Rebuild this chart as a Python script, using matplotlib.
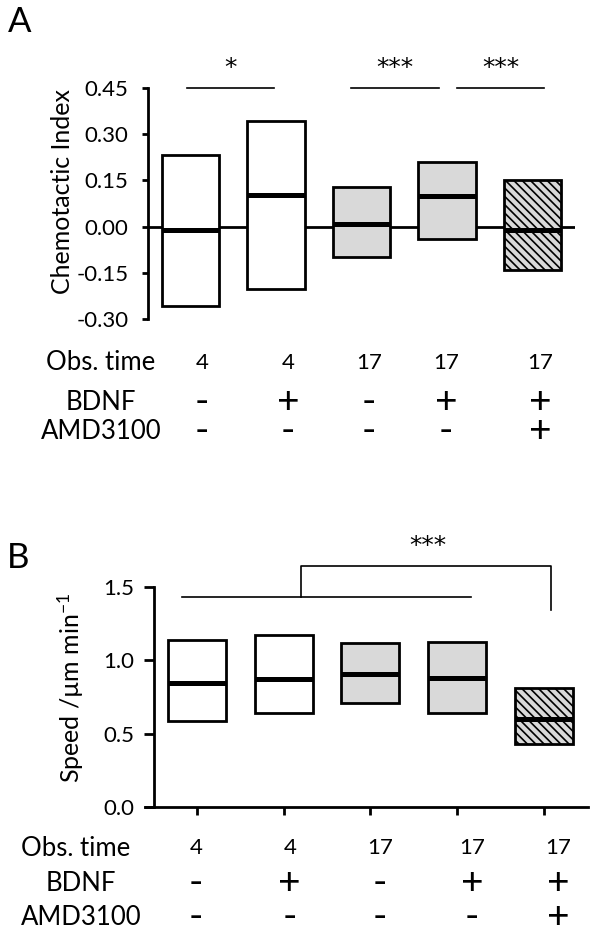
import matplotlib.pyplot as plt
from matplotlib import transforms

# conditions (same for both panels)
obs_time = ['4', '4', '17', '17', '17']
bdnf = ['-', '+', '-', '+', '+']
amd3100 = ['-', '-', '-', '-', '+']

# panel A: chemotactic index (box low / high / median)
ci_low = [-0.258, -0.202, -0.098, -0.039, -0.140]
ci_high = [0.231, 0.342, 0.130, 0.209, 0.150]
ci_med = [-0.010, 0.101, 0.007, 0.098, -0.010]
ci_ticks = [-0.30, -0.15, 0.00, 0.15, 0.30, 0.45]

# panel B: speed
sp_low = [0.584, 0.644, 0.712, 0.644, 0.432]
sp_high = [1.136, 1.170, 1.116, 1.123, 0.808]
sp_med = [0.843, 0.870, 0.910, 0.877, 0.603]
sp_ticks = [0.0, 0.5, 1.0, 1.5]

# significance: (from group, to group, label)
sig_a = [(0, 1, '*'), (2, 3, '***'), (3, 4, '***')]

plt.rcParams['font.family'] = ['Lato', 'DejaVu Sans']
plt.rcParams['mathtext.fontset'] = 'custom'
plt.rcParams['mathtext.rm'] = 'Lato'
plt.rcParams['mathtext.it'] = 'Lato:italic'
plt.rcParams['hatch.linewidth'] = 1.2

W, H = 604, 938
fig = plt.figure(figsize=(W / 100, H / 100), dpi=100)

fills = ['white', 'white', '#d9d9d9', '#d9d9d9', '#d9d9d9']
box_w = 0.67
star_font = 'DejaVu Sans'


def px_axes(left, right, top, bottom):
    return fig.add_axes([left / W, 1 - bottom / H, (right - left) / W, (bottom - top) / H])


def draw_boxes(ax, low, high, med):
    x = list(range(len(low)))
    heights = [h - l for l, h in zip(low, high)]
    bars = ax.bar(x, heights, bottom=low, width=box_w, color=fills,
                  edgecolor='black', linewidth=2, zorder=3)
    bars[-1].set_hatch('\\\\\\\\')
    ax.hlines(med, [i - box_w / 2 for i in x], [i + box_w / 2 for i in x],
              color='black', lw=3.6, zorder=4)


def draw_table(ax, col_x, rows_y, label_x):
    tr = transforms.blended_transform_factory(ax.transData, fig.transFigure)
    rows = [('Obs. time', obs_time, 16), ('BDNF', bdnf, 28), ('AMD3100', amd3100, 28)]
    for (name, vals, fs), y, lx in zip(rows, rows_y, label_x):
        fig.text(lx / W, 1 - y / H, name, ha='center', va='center', fontsize=18.5)
        for cx, v in zip(col_x, vals):
            ax.text(cx, 1 - y / H, v, transform=tr, ha='center', va='center',
                    fontsize=fs, clip_on=False)


# ---------------- panel A ----------------
axA = px_axes(148, 575, 88, 319)
axA.set_xlim(-0.5, 4.5)
axA.set_ylim(-0.30, 0.45)
axA.axhline(0, color='black', lw=2, zorder=1)
draw_boxes(axA, ci_low, ci_high, ci_med)
for s in ['top', 'right', 'bottom']:
    axA.spines[s].set_visible(False)
axA.spines['left'].set_linewidth(2)
axA.set_xticks([])
axA.set_yticks(ci_ticks)
axA.set_yticklabels(['%.2f' % t for t in ci_ticks])
axA.tick_params(axis='y', length=4, width=2, pad=10, labelsize=16)

shift_a = [(-0.04, -0.02), (-0.12, -0.09), (0.12, 0.14)]
for (g0, g1, lab), (d0, d1) in zip(sig_a, shift_a):
    axA.plot([g0 + d0, g1 + d1], [0.45, 0.45], color='black', lw=1.2, clip_on=False)
    axA.text((g0 + g1) / 2 + (d0 + d1) / 2, 0.515, lab, ha='center', va='center',
             fontsize=18, family=star_font, clip_on=False)

fig.text(62 / W, 1 - 191 / H, 'Chemotactic Index', rotation=90,
         ha='center', va='center', fontsize=18)
fig.text(8 / W, 1 - 22 / H, 'A', ha='left', va='center', fontsize=25)

draw_table(axA, [0.13, 1.14, 2.09, 2.99, 4.09], [363, 402, 431], [101, 101, 101])

# ---------------- panel B ----------------
axB = px_axes(145, 588, 587, 807)
axB.set_xlim(-0.6, 4.51)
axB.set_ylim(0, 1.5)
draw_boxes(axB, sp_low, sp_high, sp_med)
for s in ['top', 'right']:
    axB.spines[s].set_visible(False)
axB.spines['left'].set_position(('data', -0.5))
axB.spines['left'].set_linewidth(2)
axB.spines['bottom'].set_linewidth(2)
axB.set_xticks(range(len(sp_med)))
axB.set_xticklabels([])
axB.set_yticks(sp_ticks)
axB.set_yticklabels(['%.1f' % t for t in sp_ticks])
axB.tick_params(axis='y', length=7, width=2, pad=7, labelsize=16)
axB.tick_params(axis='x', length=6, width=2)

# all others vs the AMD3100 group
axB.plot([-0.17, 3.16], [1.43, 1.43], color='black', lw=1.2, clip_on=False)
axB.plot([1.2, 1.2, 4.08, 4.08], [1.43, 1.64, 1.64, 1.34], color='black', lw=1.2,
         clip_on=False)
axB.text(2.66, 1.78, '***', ha='center', va='center', fontsize=18,
         family=star_font, clip_on=False)

fig.text(71 / W, 1 - 688 / H, 'Speed /µm min$^{-1}$', rotation=90,
         ha='center', va='center', fontsize=18)
fig.text(7 / W, 1 - 558 / H, 'B', ha='left', va='center', fontsize=25)

draw_table(axB, [-0.01, 1.07, 2.11, 3.17, 4.17], [848, 883, 917], [76, 81, 81])

fig.savefig('out.png', dpi=100)
